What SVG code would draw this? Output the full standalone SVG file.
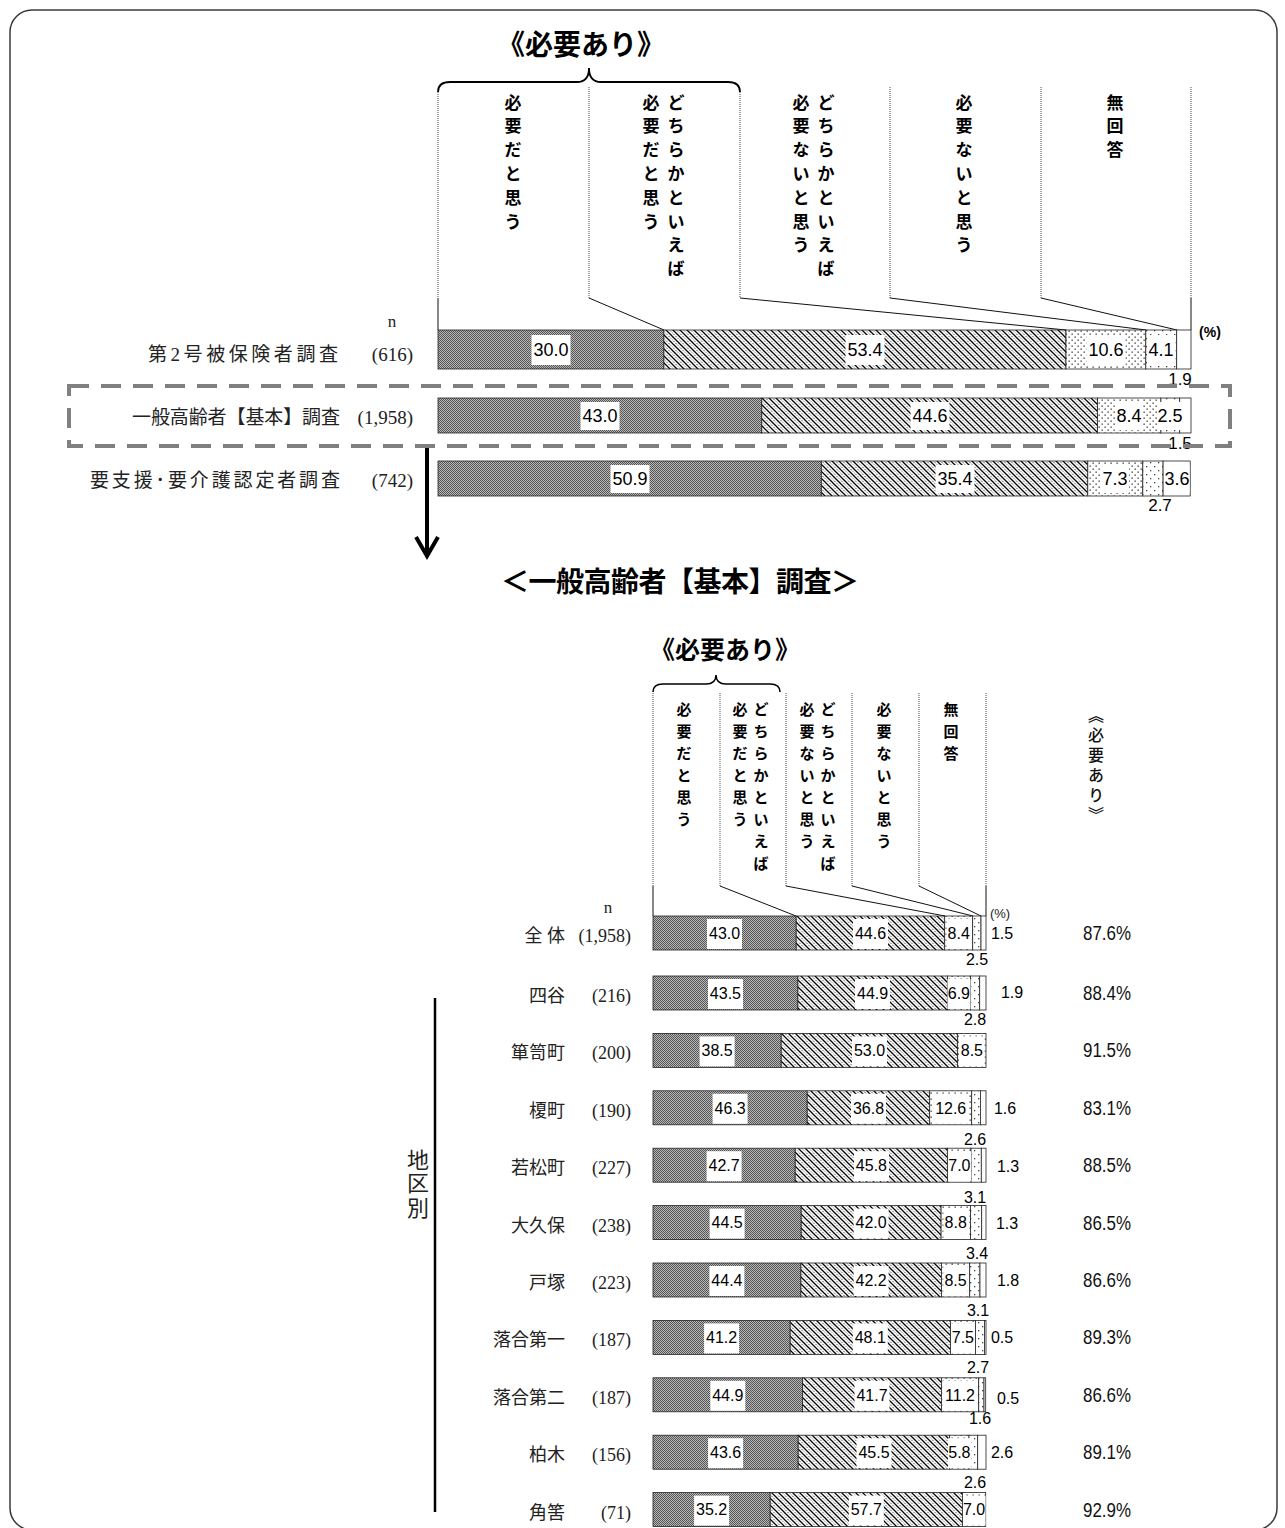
<svg xmlns="http://www.w3.org/2000/svg" width="1285" height="1528" viewBox="0 0 1285 1528">
<defs>
<pattern id="pDark" patternUnits="userSpaceOnUse" width="2" height="2">
<rect width="2" height="2" fill="#b8b8b8"/><rect width="1" height="1" fill="#555"/><rect x="1" y="1" width="1" height="1" fill="#555"/>
</pattern>
<pattern id="pHatch" patternUnits="userSpaceOnUse" width="7" height="7">
<rect width="7" height="7" fill="#fff"/>
<path d="M-1,-1 L8,8 M-1,6 L1,8 M6,-1 L8,1" stroke="#000" stroke-width="1.3"/>
<path d="M3.5,0 L7,3.5 M0,3.5 L3.5,7" stroke="#333" stroke-width="1" stroke-dasharray="1.2 1.2"/>
</pattern>
<pattern id="pDots" patternUnits="userSpaceOnUse" width="6" height="6">
<rect width="6" height="6" fill="#fff"/><rect x="0.5" y="0.5" width="1.3" height="1.3" fill="#333"/><rect x="3.5" y="3.5" width="1.3" height="1.3" fill="#333"/>
</pattern>
<pattern id="pSparse" patternUnits="userSpaceOnUse" width="8" height="8">
<rect width="8" height="8" fill="#fff"/><rect x="2" y="2" width="1.3" height="1.3" fill="#444"/><rect x="6" y="6" width="1.3" height="1.3" fill="#444"/>
</pattern>
</defs>
<style>
.hdr{font-family:"Noto Sans CJK JP","Noto Sans CJK SC",sans-serif;font-weight:700;fill:#000;text-anchor:middle}
.h17{font-size:17px}
.h15{font-size:15px}
.lbl{font-family:"Liberation Serif","Noto Sans CJK JP",serif;fill:#222}
.val{font-family:"Liberation Sans",Arial,sans-serif;fill:#000;text-anchor:middle}
.v18{font-size:18px}
.v16{font-size:16px}
.s1{fill:url(#pDark)}
.s2{fill:url(#pHatch)}
.s3{fill:url(#pDots)}
.s4{fill:url(#pSparse)}
.s5{fill:#fff}
.bar rect{stroke:#222;stroke-width:0.8}
.bar rect.box{fill:#fff;stroke:none}
.dotl{stroke:#777;stroke-width:1.3;stroke-dasharray:1 1;fill:none}
.ln{stroke:#111;stroke-width:1;fill:none}
.pct{font-family:"Liberation Sans",Arial,sans-serif;font-size:20px;fill:#111}
</style>
<rect x="10" y="10" width="1267" height="1520" rx="22" fill="#fff" stroke="#3a3a3a" stroke-width="1.5"/>

<!-- top titles -->
<g id="title-top">
<text x="581" y="55" class="hdr" font-size="28">《必要あり》</text>
<path d="M438,92 Q438,82 450,82 L577,82 Q589,82 589,68 Q589,82 601,82 L728,82 Q740,82 740,92" fill="none" stroke="#000" stroke-width="1.8"/>
</g>

<!-- top column headers -->
<g id="hdr-top" class="hdr h17">
<text><tspan x="513" y="108.5">必</tspan><tspan x="513" y="132.3">要</tspan><tspan x="513" y="156.1">だ</tspan><tspan x="513" y="179.9">と</tspan><tspan x="513" y="203.7">思</tspan><tspan x="513" y="227.5">う</tspan></text>
<text><tspan x="676" y="108.5">ど</tspan><tspan x="676" y="132.3">ち</tspan><tspan x="676" y="156.1">ら</tspan><tspan x="676" y="179.9">か</tspan><tspan x="676" y="203.7">と</tspan><tspan x="676" y="227.5">い</tspan><tspan x="676" y="251.3">え</tspan><tspan x="676" y="275.1">ば</tspan></text>
<text><tspan x="651" y="108.5">必</tspan><tspan x="651" y="132.3">要</tspan><tspan x="651" y="156.1">だ</tspan><tspan x="651" y="179.9">と</tspan><tspan x="651" y="203.7">思</tspan><tspan x="651" y="227.5">う</tspan></text>
<text><tspan x="826" y="108.5">ど</tspan><tspan x="826" y="132.3">ち</tspan><tspan x="826" y="156.1">ら</tspan><tspan x="826" y="179.9">か</tspan><tspan x="826" y="203.7">と</tspan><tspan x="826" y="227.5">い</tspan><tspan x="826" y="251.3">え</tspan><tspan x="826" y="275.1">ば</tspan></text>
<text><tspan x="801" y="108.5">必</tspan><tspan x="801" y="132.3">要</tspan><tspan x="801" y="156.1">な</tspan><tspan x="801" y="179.9">い</tspan><tspan x="801" y="203.7">と</tspan><tspan x="801" y="227.5">思</tspan><tspan x="801" y="251.3">う</tspan></text>
<text><tspan x="964" y="108.5">必</tspan><tspan x="964" y="132.3">要</tspan><tspan x="964" y="156.1">な</tspan><tspan x="964" y="179.9">い</tspan><tspan x="964" y="203.7">と</tspan><tspan x="964" y="227.5">思</tspan><tspan x="964" y="251.3">う</tspan></text>
<text><tspan x="1115" y="108.5">無</tspan><tspan x="1115" y="132.3">回</tspan><tspan x="1115" y="156.1">答</tspan></text>
</g>

<!-- connectors -->
<g id="connectors">
<path class="dotl" d="M438,92 V298 M589,87 V298 M740,92 V298 M890,87 V298 M1041,87 V298 M1191,87 V298"/>
<path class="ln" d="M438,298 V330 M1191,298 V330 M589,298 L664,330 M740,298 L1066,330 M890,298 L1146,330 M1041,298 L1177,330"/>
<path class="dotl" d="M653,693 V886 M720,693 V886 M786,693 V886 M852,693 V886 M919,693 V886 M986,693 V886"/>
<path class="ln" d="M653,886 V916 M986,886 V916 M720,886 L796,916 M786,886 L945,916 M852,886 L973,916 M919,886 L981,916"/>
<g id="arrow" stroke="#000" stroke-width="4" fill="none">
<line x1="427" y1="447" x2="427" y2="555"/>
<polyline points="416,537 427,556 438,537" stroke-linejoin="miter"/>
</g>
</g>

<!-- top left labels -->
<g id="labels-top" class="lbl" font-size="19">
<text x="392" y="327" text-anchor="middle" font-size="17">n</text>
<text x="148" y="361" textLength="190">第2号被保険者調査</text>
<text x="413" y="361" text-anchor="end">(616)</text>
<text x="132" y="424" textLength="208">一般高齢者【基本】調査</text>
<text x="413" y="424" text-anchor="end">(1,958)</text>
<text x="90" y="487" textLength="250">要支援･要介護認定者調査</text>
<text x="413" y="487" text-anchor="end">(742)</text>
</g>

<!-- top bars -->
<g id="bar-t1" class="bar">
<rect class="s1" x="438" y="330" width="225.9" height="39"/>
<rect class="s2" x="663.9" y="330" width="402.1" height="39"/>
<rect class="s3" x="1066" y="330" width="79.8" height="39"/>
<rect class="s4" x="1145.8" y="330" width="30.9" height="39"/>
<rect class="s5" x="1176.7" y="330" width="14.3" height="39"/>
<rect class="box" x="531.5" y="335" width="39" height="30"/>
<rect class="box" x="845.5" y="335" width="39" height="30"/>
<rect class="box" x="1086.5" y="335" width="39" height="30"/>
<rect class="box" x="1147" y="335" width="28" height="30"/>
<g class="val v18"><text x="551" y="356">30.0</text><text x="865" y="356">53.4</text><text x="1106" y="356">10.6</text><text x="1161" y="356">4.1</text></g>
</g>
<g id="bar-t2" class="bar">
<rect class="s1" x="438" y="398" width="323.8" height="35"/>
<rect class="s2" x="761.8" y="398" width="335.8" height="35"/>
<rect class="s3" x="1097.6" y="398" width="63.3" height="35"/>
<rect class="s4" x="1160.9" y="398" width="18.8" height="35"/>
<rect class="s5" x="1179.7" y="398" width="11.3" height="35"/>
<rect class="box" x="580.5" y="402" width="39" height="28"/>
<rect class="box" x="910.5" y="402" width="39" height="28"/>
<rect class="box" x="1115" y="402" width="28" height="28"/>
<rect class="box" x="1157" y="402" width="26" height="28"/>
<g class="val v18"><text x="600" y="422">43.0</text><text x="930" y="422">44.6</text><text x="1129" y="422">8.4</text><text x="1170" y="422">2.5</text></g>
</g>
<g id="bar-t3" class="bar">
<rect class="s1" x="438" y="461" width="383.3" height="35"/>
<rect class="s2" x="821.3" y="461" width="266.5" height="35"/>
<rect class="s3" x="1087.8" y="461" width="55" height="35"/>
<rect class="s4" x="1142.8" y="461" width="20.3" height="35"/>
<rect class="s5" x="1163.1" y="461" width="27.1" height="35"/>
<rect class="box" x="610.5" y="465" width="39" height="28"/>
<rect class="box" x="935.5" y="465" width="39" height="28"/>
<rect class="box" x="1101" y="465" width="28" height="28"/>
<rect class="box" x="1164.5" y="465" width="25" height="28"/>
<g class="val v18"><text x="630" y="485">50.9</text><text x="955" y="485">35.4</text><text x="1115" y="485">7.3</text><text x="1177" y="485">3.6</text></g>
</g>
<g id="outside-top" class="val" font-size="17">
<text x="1180" y="385">1.9</text>
<text x="1180" y="449">1.5</text>
<text x="1160" y="511">2.7</text>
<text x="1210" y="337" font-size="14" font-weight="bold">(%)</text>
</g>

<g id="highlight">
<rect x="69" y="386" width="1161" height="60" fill="none" stroke="#808080" stroke-width="4" stroke-dasharray="20 12"/>
</g>

<g id="title-bottom">
<text x="680" y="592" class="hdr" font-size="28" textLength="358">＜一般高齢者【基本】調査＞</text>
<text x="725" y="659" class="hdr" font-size="25">《必要あり》</text>
<path d="M653,692 Q653,684 663,684 L706,684 Q716,684 716,675 Q716,684 726,684 L770,684 Q780,684 780,692" fill="none" stroke="#000" stroke-width="1.6"/>
</g>

<g id="hdr-bottom" class="hdr h15">
<text><tspan x="684" y="714.7">必</tspan><tspan x="684" y="736.7">要</tspan><tspan x="684" y="758.7">だ</tspan><tspan x="684" y="780.7">と</tspan><tspan x="684" y="802.7">思</tspan><tspan x="684" y="824.7">う</tspan></text>
<text><tspan x="761" y="714.7">ど</tspan><tspan x="761" y="736.7">ち</tspan><tspan x="761" y="758.7">ら</tspan><tspan x="761" y="780.7">か</tspan><tspan x="761" y="802.7">と</tspan><tspan x="761" y="824.7">い</tspan><tspan x="761" y="846.7">え</tspan><tspan x="761" y="868.7">ば</tspan></text>
<text><tspan x="740" y="714.7">必</tspan><tspan x="740" y="736.7">要</tspan><tspan x="740" y="758.7">だ</tspan><tspan x="740" y="780.7">と</tspan><tspan x="740" y="802.7">思</tspan><tspan x="740" y="824.7">う</tspan></text>
<text><tspan x="828" y="714.7">ど</tspan><tspan x="828" y="736.7">ち</tspan><tspan x="828" y="758.7">ら</tspan><tspan x="828" y="780.7">か</tspan><tspan x="828" y="802.7">と</tspan><tspan x="828" y="824.7">い</tspan><tspan x="828" y="846.7">え</tspan><tspan x="828" y="868.7">ば</tspan></text>
<text><tspan x="807" y="714.7">必</tspan><tspan x="807" y="736.7">要</tspan><tspan x="807" y="758.7">な</tspan><tspan x="807" y="780.7">い</tspan><tspan x="807" y="802.7">と</tspan><tspan x="807" y="824.7">思</tspan><tspan x="807" y="846.7">う</tspan></text>
<text><tspan x="884" y="714.7">必</tspan><tspan x="884" y="736.7">要</tspan><tspan x="884" y="758.7">な</tspan><tspan x="884" y="780.7">い</tspan><tspan x="884" y="802.7">と</tspan><tspan x="884" y="824.7">思</tspan><tspan x="884" y="846.7">う</tspan></text>
<text><tspan x="951" y="714.7">無</tspan><tspan x="951" y="736.7">回</tspan><tspan x="951" y="758.7">答</tspan></text>
</g>
<g id="hdr-need">
<text x="1096" y="707" style="writing-mode:vertical-rl" font-family="'Noto Sans CJK JP',sans-serif" font-size="16" font-weight="500" letter-spacing="4" fill="#111">《必要あり》</text>
</g>

<!-- bottom labels -->
<g id="labels-bottom" class="lbl" font-size="18">
<text x="608" y="913" text-anchor="middle" font-size="17">n</text>
<text x="1000" y="918" font-family="'Liberation Sans',sans-serif" font-size="13" text-anchor="middle">(%)</text>
<g text-anchor="end">
<text x="565" y="942">全 体</text><text x="631" y="942">(1,958)</text>
<text x="565" y="1002">四谷</text><text x="631" y="1002">(216)</text>
<text x="565" y="1059.4">箪笥町</text><text x="631" y="1059.4">(200)</text>
<text x="565" y="1116.8">榎町</text><text x="631" y="1116.8">(190)</text>
<text x="565" y="1174.2">若松町</text><text x="631" y="1174.2">(227)</text>
<text x="565" y="1231.6">大久保</text><text x="631" y="1231.6">(238)</text>
<text x="565" y="1289">戸塚</text><text x="631" y="1289">(223)</text>
<text x="565" y="1346.4">落合第一</text><text x="631" y="1346.4">(187)</text>
<text x="565" y="1403.8">落合第二</text><text x="631" y="1403.8">(187)</text>
<text x="565" y="1461.2">柏木</text><text x="631" y="1461.2">(156)</text>
<text x="565" y="1518.6">角筈</text><text x="631" y="1518.6">(71)</text>
</g>
<text font-size="22" text-anchor="middle"><tspan x="418" y="1168">地</tspan><tspan x="418" y="1191">区</tspan><tspan x="418" y="1216">別</tspan></text>
<line x1="435" y1="998" x2="435" y2="1512" stroke="#000" stroke-width="2.5"/>
</g>

<!-- bottom bars -->
<g id="bar-all" class="bar">
<rect class="s1" x="653" y="916" width="143.2" height="34"/><rect class="s2" x="796.2" y="916" width="148.5" height="34"/><rect class="s3" x="944.7" y="916" width="28" height="34"/><rect class="s4" x="972.7" y="916" width="8.3" height="34"/><rect class="s5" x="981" y="916" width="5" height="34"/>
<rect class="box" x="707" y="919" width="35" height="30"/><rect class="box" x="853" y="919" width="35" height="30"/><rect class="box" x="946.5" y="919" width="24.5" height="30"/>
<g class="val v16"><text x="724.6" y="938.8">43.0</text><text x="870.5" y="938.8">44.6</text><text x="958.7" y="938.8">8.4</text></g>
</g>
<g id="bar-yotsuya" class="bar">
<rect class="s1" x="653" y="976" width="144.9" height="34"/><rect class="s2" x="797.9" y="976" width="149.5" height="34"/><rect class="s3" x="947.4" y="976" width="23" height="34"/><rect class="s4" x="970.4" y="976" width="9.3" height="34"/><rect class="s5" x="979.7" y="976" width="6.3" height="34"/>
<rect class="box" x="708" y="979" width="35" height="30"/><rect class="box" x="855" y="979" width="35" height="30"/><rect class="box" x="947.5" y="979" width="23" height="30"/>
<g class="val v16"><text x="725.4" y="998.8">43.5</text><text x="872.6" y="998.8">44.9</text><text x="958.9" y="998.8">6.9</text></g>
</g>
<g id="bar-tansumachi" class="bar">
<rect class="s1" x="653" y="1033.4" width="128.2" height="34"/><rect class="s2" x="781.2" y="1033.4" width="176.5" height="34"/><rect class="s3" x="957.7" y="1033.4" width="28.3" height="34"/>
<rect class="box" x="699.6" y="1036.4" width="35" height="30"/><rect class="box" x="852" y="1036.4" width="35" height="30"/><rect class="box" x="959.5" y="1036.4" width="25" height="30"/>
<g class="val v16"><text x="717.1" y="1056.2">38.5</text><text x="869.5" y="1056.2">53.0</text><text x="971.9" y="1056.2">8.5</text></g>
</g>
<g id="bar-enokicho" class="bar">
<rect class="s1" x="653" y="1090.8" width="154.2" height="34"/><rect class="s2" x="807.2" y="1090.8" width="122.5" height="34"/><rect class="s3" x="929.7" y="1090.8" width="42" height="34"/><rect class="s4" x="971.7" y="1090.8" width="8.7" height="34"/><rect class="s5" x="980.4" y="1090.8" width="5.6" height="34"/>
<rect class="box" x="712.6" y="1093.8" width="35" height="30"/><rect class="box" x="851" y="1093.8" width="35" height="30"/><rect class="box" x="933.2" y="1093.8" width="35" height="30"/>
<g class="val v16"><text x="730.1" y="1113.6">46.3</text><text x="868.5" y="1113.6">36.8</text><text x="950.7" y="1113.6">12.6</text></g>
</g>
<g id="bar-wakamatsucho" class="bar">
<rect class="s1" x="653" y="1148.2" width="142.2" height="34"/><rect class="s2" x="795.2" y="1148.2" width="152.5" height="34"/><rect class="s3" x="947.7" y="1148.2" width="23.3" height="34"/><rect class="s4" x="971" y="1148.2" width="10.3" height="34"/><rect class="s5" x="981.3" y="1148.2" width="4.7" height="34"/>
<rect class="box" x="706.6" y="1151.2" width="35" height="30"/><rect class="box" x="854" y="1151.2" width="35" height="30"/><rect class="box" x="948" y="1151.2" width="23" height="30"/>
<g class="val v16"><text x="724.1" y="1171">42.7</text><text x="871.4" y="1171">45.8</text><text x="959.4" y="1171">7.0</text></g>
</g>
<g id="bar-okubo" class="bar">
<rect class="s1" x="653" y="1205.6" width="148.2" height="34"/><rect class="s2" x="801.2" y="1205.6" width="139.9" height="34"/><rect class="s3" x="941.1" y="1205.6" width="29.3" height="34"/><rect class="s4" x="970.4" y="1205.6" width="11.3" height="34"/><rect class="s5" x="981.7" y="1205.6" width="4.3" height="34"/>
<rect class="box" x="709.6" y="1208.6" width="35" height="30"/><rect class="box" x="853.6" y="1208.6" width="35" height="30"/><rect class="box" x="943.5" y="1208.6" width="24.5" height="30"/>
<g class="val v16"><text x="727.1" y="1228.4">44.5</text><text x="871.1" y="1228.4">42.0</text><text x="955.7" y="1228.4">8.8</text></g>
</g>
<g id="bar-totsuka" class="bar">
<rect class="s1" x="653" y="1263" width="147.9" height="34"/><rect class="s2" x="800.9" y="1263" width="140.5" height="34"/><rect class="s3" x="941.4" y="1263" width="28.3" height="34"/><rect class="s4" x="969.7" y="1263" width="10.3" height="34"/><rect class="s5" x="980" y="1263" width="6" height="34"/>
<rect class="box" x="709.4" y="1266" width="35" height="30"/><rect class="box" x="853.6" y="1266" width="35" height="30"/><rect class="box" x="943.3" y="1266" width="24.5" height="30"/>
<g class="val v16"><text x="726.9" y="1285.8">44.4</text><text x="871.1" y="1285.8">42.2</text><text x="955.5" y="1285.8">8.5</text></g>
</g>
<g id="bar-ochiai1" class="bar">
<rect class="s1" x="653" y="1320.4" width="137.2" height="34"/><rect class="s2" x="790.2" y="1320.4" width="160.2" height="34"/><rect class="s3" x="950.4" y="1320.4" width="25" height="34"/><rect class="s4" x="975.4" y="1320.4" width="9" height="34"/><rect class="s5" x="984.4" y="1320.4" width="1.6" height="34"/>
<rect class="box" x="704.1" y="1323.4" width="35" height="30"/><rect class="box" x="852.8" y="1323.4" width="35" height="30"/><rect class="box" x="951" y="1323.4" width="23.5" height="30"/>
<g class="val v16"><text x="721.6" y="1343.2">41.2</text><text x="870.3" y="1343.2">48.1</text><text x="962.9" y="1343.2">7.5</text></g>
</g>
<g id="bar-ochiai2" class="bar">
<rect class="s1" x="653" y="1377.8" width="149.5" height="34"/><rect class="s2" x="802.5" y="1377.8" width="138.9" height="34"/><rect class="s3" x="941.4" y="1377.8" width="37.3" height="34"/><rect class="s4" x="978.7" y="1377.8" width="5.3" height="34"/><rect class="s5" x="984" y="1377.8" width="1.7" height="34"/>
<rect class="box" x="710.3" y="1380.8" width="35" height="30"/><rect class="box" x="854.5" y="1380.8" width="35" height="30"/><rect class="box" x="942.5" y="1380.8" width="35" height="30"/>
<g class="val v16"><text x="727.8" y="1400.6">44.9</text><text x="872" y="1400.6">41.7</text><text x="960" y="1400.6">11.2</text></g>
</g>
<g id="bar-kashiwagi" class="bar">
<rect class="s1" x="653" y="1435.2" width="145.2" height="34"/><rect class="s2" x="798.2" y="1435.2" width="151.5" height="34"/><rect class="s3" x="949.7" y="1435.2" width="19.3" height="34"/><rect class="s4" x="969" y="1435.2" width="8.7" height="34"/><rect class="s5" x="977.7" y="1435.2" width="8.3" height="34"/>
<rect class="box" x="708.1" y="1438.2" width="35" height="30"/><rect class="box" x="856.5" y="1438.2" width="35" height="30"/><rect class="box" x="948" y="1438.2" width="23" height="30"/>
<g class="val v16"><text x="725.6" y="1458">43.6</text><text x="874" y="1458">45.5</text><text x="959.4" y="1458">5.8</text></g>
</g>
<g id="bar-tsunohazu" class="bar">
<rect class="s1" x="653" y="1492.6" width="117.2" height="34"/><rect class="s2" x="770.2" y="1492.6" width="192.2" height="34"/><rect class="s3" x="962.4" y="1492.6" width="23.3" height="34"/>
<rect class="box" x="694.1" y="1495.6" width="35" height="30"/><rect class="box" x="848.8" y="1495.6" width="35" height="30"/><rect class="box" x="963" y="1495.6" width="22.5" height="30"/>
<g class="val v16"><text x="711.6" y="1515.4">35.2</text><text x="866.3" y="1515.4">57.7</text><text x="974" y="1515.4">7.0</text></g>
</g>

<g id="outside-bottom" class="val v16">
<text x="1002" y="939">1.5</text><text x="977" y="965">2.5</text>
<text x="1012" y="998">1.9</text><text x="975" y="1025">2.8</text>
<text x="1005" y="1114">1.6</text><text x="975" y="1145">2.6</text>
<text x="1008" y="1172">1.3</text><text x="975" y="1202.5">3.1</text>
<text x="1007" y="1229">1.3</text><text x="977" y="1258.5">3.4</text>
<text x="1008" y="1286">1.8</text><text x="978" y="1316">3.1</text>
<text x="1002" y="1343">0.5</text><text x="978" y="1372.5">2.7</text>
<text x="1008" y="1404">0.5</text><text x="980" y="1424">1.6</text>
<text x="1002" y="1457.5">2.6</text><text x="975" y="1487.5">2.6</text>
</g>

<g id="need-pct" class="pct">
<text x="1083" y="940" textLength="48" lengthAdjust="spacingAndGlyphs">87.6%</text>
<text x="1083" y="1000" textLength="48" lengthAdjust="spacingAndGlyphs">88.4%</text>
<text x="1083" y="1057.4" textLength="48" lengthAdjust="spacingAndGlyphs">91.5%</text>
<text x="1083" y="1114.8" textLength="48" lengthAdjust="spacingAndGlyphs">83.1%</text>
<text x="1083" y="1172.2" textLength="48" lengthAdjust="spacingAndGlyphs">88.5%</text>
<text x="1083" y="1229.6" textLength="48" lengthAdjust="spacingAndGlyphs">86.5%</text>
<text x="1083" y="1287" textLength="48" lengthAdjust="spacingAndGlyphs">86.6%</text>
<text x="1083" y="1344.4" textLength="48" lengthAdjust="spacingAndGlyphs">89.3%</text>
<text x="1083" y="1401.8" textLength="48" lengthAdjust="spacingAndGlyphs">86.6%</text>
<text x="1083" y="1459.2" textLength="48" lengthAdjust="spacingAndGlyphs">89.1%</text>
<text x="1083" y="1516.6" textLength="48" lengthAdjust="spacingAndGlyphs">92.9%</text>
</g>
</svg>
